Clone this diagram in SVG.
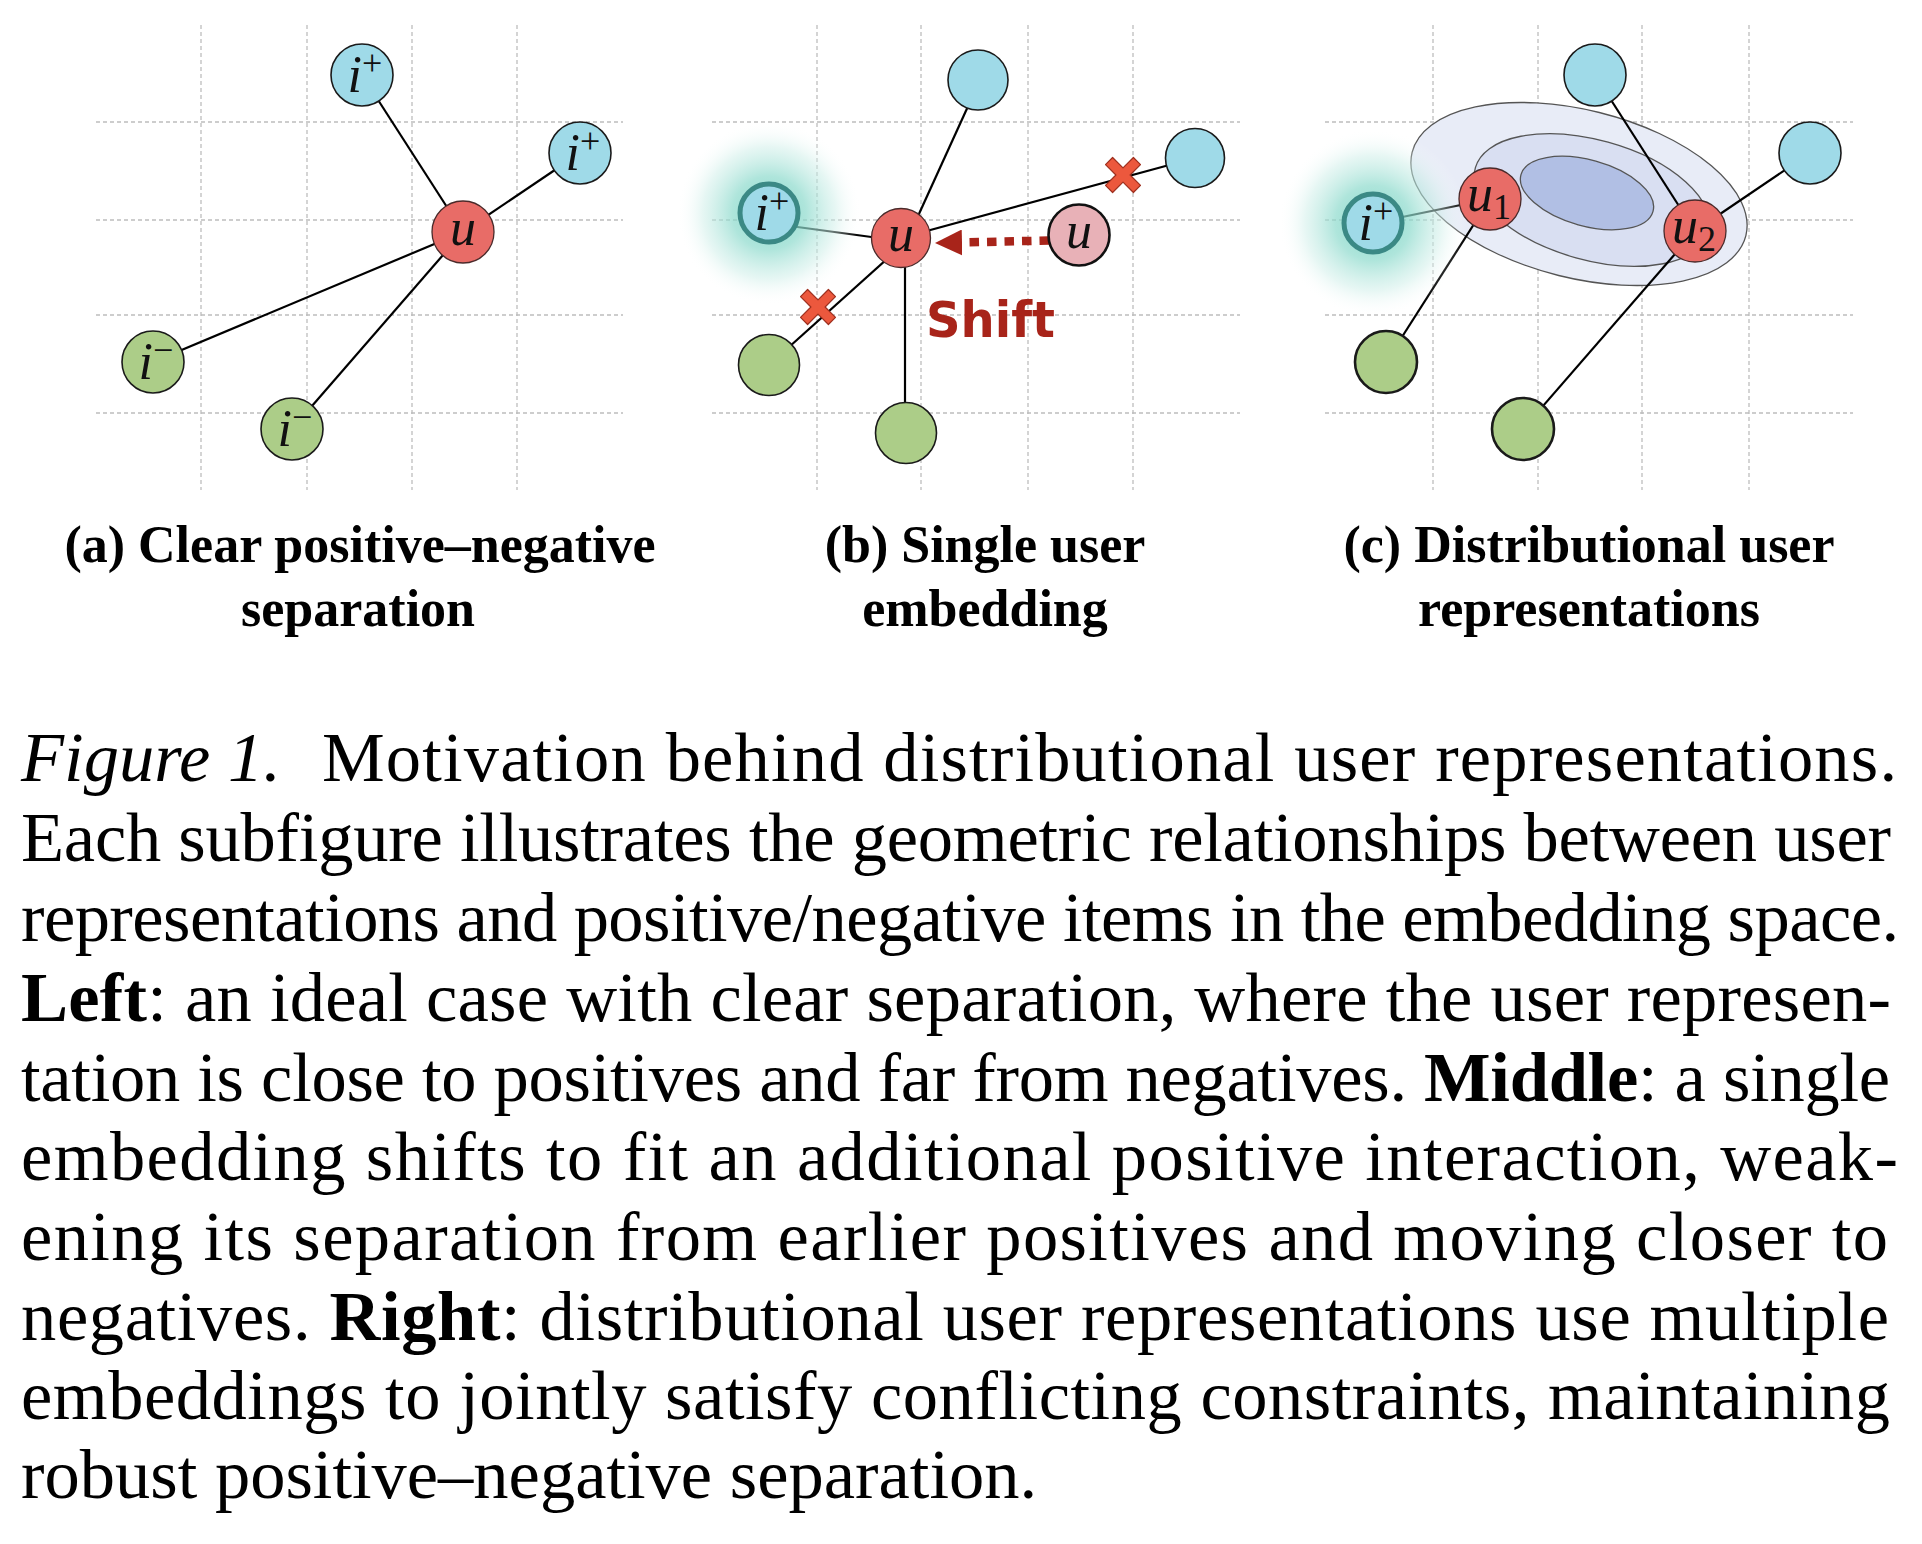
<svg xmlns="http://www.w3.org/2000/svg" width="1922" height="1544" viewBox="0 0 1922 1544">
<style>
.grid{stroke:#bdbdbd;stroke-width:1.3;stroke-dasharray:4 3;fill:none}
.edge{stroke:#000;stroke-width:2.2;fill:none}
.pos{fill:#9fdae8;stroke:#1a1a1a;stroke-width:1.6}
.neg{fill:#accd88;stroke:#1a1a1a;stroke-width:1.6}
.usr{fill:#e86c67;stroke:#4a2a2a;stroke-width:1.3}
.hl{fill:#9fdae8;stroke:#3b8985;stroke-width:5}
.thick{stroke-width:2.6}
.lbl{font-family:"Liberation Serif","Times New Roman",serif;font-style:italic;font-size:52px;fill:#111;text-anchor:middle}
.sup{font-size:36px;font-style:normal}
.sub{font-family:"Liberation Serif","Times New Roman",serif;font-weight:bold;font-size:52px;text-anchor:middle;fill:#000}
.cap{font-family:"Liberation Serif","Times New Roman",serif;font-size:70.5px;fill:#000}
.ell{stroke:#555;stroke-width:1.3}
</style>
<defs>
<radialGradient id="glow" cx="0.5" cy="0.5" r="0.5">
<stop offset="0" stop-color="#6fd0c0" stop-opacity="0.85"/>
<stop offset="0.4" stop-color="#8cdacc" stop-opacity="0.7"/>
<stop offset="0.72" stop-color="#cdeee8" stop-opacity="0.5"/>
<stop offset="1" stop-color="#ffffff" stop-opacity="0"/>
</radialGradient>
<path id="xmark" d="M0,-7.1 L10.4,-17.5 L17.5,-10.4 L7.1,0 L17.5,10.4 L10.4,17.5 L0,7.1 L-10.4,17.5 L-17.5,10.4 L-7.1,0 L-17.5,-10.4 L-10.4,-17.5 Z" fill="#ec583d" stroke="#9e2f1e" stroke-width="1.2" stroke-linejoin="round"/>
<marker id="ah" markerUnits="userSpaceOnUse" markerWidth="28" markerHeight="26" refX="0" refY="13" orient="auto">
<path d="M0,0 L27,13 L0,26 Z" fill="#a8241a"/>
</marker>
</defs>
<rect width="1922" height="1544" fill="#fff"/>

<!-- grids -->
<g id="grid-a" class="grid">
<path d="M96,122H623M96,220H623M96,315H623M96,413H623M201,25V490M307,25V490M412,25V490M517,25V490"/>
</g>
<g id="grid-b" class="grid">
<path d="M712,122H1240M712,220H1240M712,315H1240M712,413H1240M817,25V490M921,25V490M1028,25V490M1133,25V490"/>
</g>
<g id="grid-c" class="grid">
<path d="M1325,122H1853M1325,220H1853M1325,315H1853M1325,413H1853M1433,25V490M1538,25V490M1642,25V490M1749,25V490"/>
</g>

<!-- distribution ellipses -->
<g id="distribution">
<ellipse class="ell" cx="1579" cy="194" rx="172" ry="84" transform="rotate(14 1579 194)" fill="#e8ecf7"/>
<ellipse class="ell" cx="1592" cy="200" rx="121" ry="60" transform="rotate(15.5 1592 200)" fill="#d9dff2"/>
<ellipse class="ell" cx="1587" cy="193" rx="68.5" ry="33" transform="rotate(15.5 1587 193)" fill="#b1bfe4"/>
</g>

<!-- connectors -->
<g id="connectors">
<line class="edge" x1="362" y1="75" x2="463" y2="232"/>
<line class="edge" x1="580" y1="153" x2="463" y2="232"/>
<line class="edge" x1="153" y1="362" x2="463" y2="232"/>
<line class="edge" x1="292" y1="429" x2="463" y2="232"/>

<line class="edge" x1="908" y1="238" x2="980" y2="80"/>
<line class="edge" x1="901" y1="238" x2="1195" y2="158"/>
<line class="edge" x1="790" y1="226" x2="901" y2="241"/>
<line class="edge" x1="769" y1="365" x2="897" y2="250"/>
<line class="edge" x1="905" y1="238" x2="905" y2="433"/>
<line x1="1049" y1="240.5" x2="962" y2="242.5" stroke="#a8241a" stroke-width="8.5" stroke-dasharray="9.5 8" marker-end="url(#ah)"/>

<line class="edge" x1="1373" y1="223" x2="1490" y2="199"/>
<line class="edge" x1="1490" y1="199" x2="1386" y2="362"/>
<line class="edge" x1="1595" y1="75" x2="1695" y2="231"/>
<line class="edge" x1="1810" y1="153" x2="1695" y2="231"/>
<line class="edge" x1="1695" y1="231" x2="1523" y2="429"/>
</g>

<!-- glows -->
<circle cx="769" cy="213" r="92" fill="url(#glow)"/>
<circle cx="1373" cy="223" r="94" fill="url(#glow)"/>

<!-- conflict marks -->
<use href="#xmark" x="1123" y="175"/>
<use href="#xmark" x="818" y="307"/>

<!-- panel a nodes -->
<g id="a-pos1"><circle class="pos" cx="362" cy="75" r="31"/><text class="lbl" x="365" y="92">i<tspan class="sup" dy="-17">+</tspan></text></g>
<g id="a-pos2"><circle class="pos" cx="580" cy="153" r="31"/><text class="lbl" x="583" y="170">i<tspan class="sup" dy="-17">+</tspan></text></g>
<g id="a-user"><circle class="usr" cx="463" cy="232" r="31"/><text class="lbl" x="463" y="245">u</text></g>
<g id="a-neg1"><circle class="neg" cx="153" cy="362" r="31"/><text class="lbl" x="156" y="379">i<tspan class="sup" dy="-17">−</tspan></text></g>
<g id="a-neg2"><circle class="neg" cx="292" cy="429" r="31"/><text class="lbl" x="295" y="446">i<tspan class="sup" dy="-17">−</tspan></text></g>

<!-- panel b nodes -->
<g id="b-pos1"><circle class="pos" cx="978" cy="80" r="30"/></g>
<g id="b-pos2"><circle class="pos" cx="1195" cy="158" r="29.5"/></g>
<g id="b-pos-new"><circle class="hl" cx="769" cy="213" r="29"/><text class="lbl" x="772" y="230">i<tspan class="sup" dy="-17">+</tspan></text></g>
<g id="b-user"><circle class="usr" cx="901" cy="238" r="29.5"/><text class="lbl" x="901" y="251">u</text></g>
<g id="b-user-old"><circle cx="1079" cy="235" r="30.5" fill="#e8b1b7" stroke="#111" stroke-width="2.6"/><text class="lbl" x="1079" y="248">u</text></g>
<g id="b-neg1"><circle class="neg" cx="769" cy="365" r="30.5"/></g>
<g id="b-neg2"><circle class="neg" cx="906" cy="433" r="30.5"/></g>
<text id="shift-label" x="926" y="337" font-family="DejaVu Sans, Verdana, sans-serif" font-weight="bold" font-size="50" fill="#a8241a" textLength="129" lengthAdjust="spacingAndGlyphs">Shift</text>

<!-- panel c nodes -->
<g id="c-pos1"><circle class="pos" cx="1595" cy="75" r="31" stroke-width="2.2"/></g>
<g id="c-pos2"><circle class="pos" cx="1810" cy="153" r="31" stroke-width="2.2"/></g>
<g id="c-pos-new"><circle class="hl" cx="1373" cy="223" r="29"/><text class="lbl" x="1376" y="240">i<tspan class="sup" dy="-17">+</tspan></text></g>
<g id="c-user1"><circle class="usr" cx="1490" cy="199" r="31" stroke="#222" stroke-width="1.8"/><text class="lbl" x="1489" y="211">u<tspan class="sup" dy="8">1</tspan></text></g>
<g id="c-user2"><circle class="usr" cx="1695" cy="231" r="31" stroke="#222" stroke-width="1.8"/><text class="lbl" x="1694" y="243">u<tspan class="sup" dy="8">2</tspan></text></g>
<g id="c-neg1"><circle class="neg thick" cx="1386" cy="362" r="31"/></g>
<g id="c-neg2"><circle class="neg thick" cx="1523" cy="429" r="31"/></g>

<!-- subcaptions -->
<g id="subcaptions">
<text class="sub" x="360" y="562">(a) Clear positive–negative</text>
<text class="sub" x="358" y="626">separation</text>
<text class="sub" x="985" y="562">(b) Single user</text>
<text class="sub" x="985" y="626">embedding</text>
<text class="sub" x="1589" y="562">(c) Distributional user</text>
<text class="sub" x="1589" y="626">representations</text>
</g>

<!-- caption -->
<g id="caption" class="cap">
<text x="21" y="781" font-style="italic">Figure 1.</text>
<text x="322" y="781" textLength="1575" lengthAdjust="spacing">Motivation behind distributional user representations.</text>
<text x="21" y="861" textLength="1870" lengthAdjust="spacing">Each subfigure illustrates the geometric relationships between user</text>
<text x="21" y="941" textLength="1878" lengthAdjust="spacing">representations and positive/negative items in the embedding space.</text>
<text x="21" y="1021" textLength="1870" lengthAdjust="spacing"><tspan font-weight="bold">Left</tspan>: an ideal case with clear separation, where the user represen-</text>
<text x="21" y="1101" textLength="1869" lengthAdjust="spacing">tation is close to positives and far from negatives. <tspan font-weight="bold">Middle</tspan>: a single</text>
<text x="21" y="1180" textLength="1877" lengthAdjust="spacing">embedding shifts to fit an additional positive interaction, weak-</text>
<text x="21" y="1260" textLength="1867" lengthAdjust="spacing">ening its separation from earlier positives and moving closer to</text>
<text x="21" y="1340" textLength="1868" lengthAdjust="spacing">negatives. <tspan font-weight="bold">Right</tspan>: distributional user representations use multiple</text>
<text x="21" y="1419" textLength="1869" lengthAdjust="spacing">embeddings to jointly satisfy conflicting constraints, maintaining</text>
<text x="21" y="1498">robust positive–negative separation.</text>
</g>
</svg>
